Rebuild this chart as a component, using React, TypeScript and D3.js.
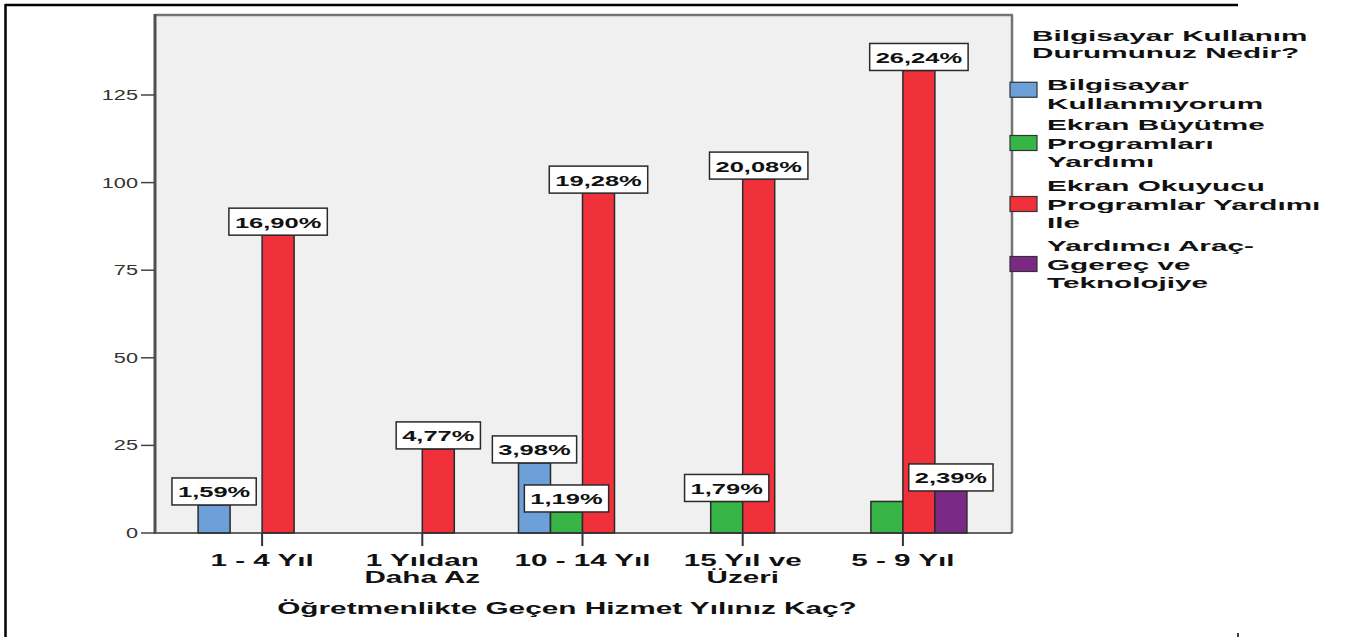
import React, { useEffect, useRef } from "react";
import * as d3 from "d3";

// ---- data ----
const categoryLines: string[][] = [
  ["1 - 4 Yıl"],
  ["1 Yıldan", "Daha Az"],
  ["10 - 14 Yıl"],
  ["15 Yıl ve", "Üzeri"],
  ["5 - 9 Yıl"],
];
const seriesKeys = ["kullanmiyorum", "buyutme", "okuyucu", "aracGerec"];
const legendLines: string[][] = [
  ["Bilgisayar", "Kullanmıyorum"],
  ["Ekran Büyütme", "Programları", "Yardımı"],
  ["Ekran Okuyucu", "Programlar Yardımı", "Ile"],
  ["Yardımcı Araç-", "Ggereç ve", "Teknolojiye"],
];
const legendTitle = ["Bilgisayar Kullanım", "Durumunuz Nedir?"];
const seriesColors = ["#6d9fd9", "#37b647", "#f0303a", "#7a2a84"];

const kullanmiyorum = [8, 0, 20, 0, 0];
const buyutme = [0, 0, 6, 9, 9];
const okuyucu = [85, 24, 97, 101, 132];
const aracGerec = [0, 0, 0, 0, 12];

const kullanmiyorumPct = ["1,59%", null, "3,98%", null, null];
const buyutmePct = [null, null, "1,19%", "1,79%", null];
const okuyucuPct = ["16,90%", "4,77%", "19,28%", "20,08%", "26,24%"];
const aracGerecPct = [null, null, null, null, "2,39%"];

const yTicks = [0, 25, 50, 75, 100, 125];
const xTitle = "Öğretmenlikte Geçen Hizmet Yılınız Kaç?";

const seriesValues = [kullanmiyorum, buyutme, okuyucu, aracGerec];
const seriesPct = [kullanmiyorumPct, buyutmePct, okuyucuPct, aracGerecPct];

const FONT = "'Liberation Sans', Arial, sans-serif";

export default function App() {
  const ref = useRef<SVGSVGElement>(null);

  useEffect(() => {
    const svg = d3.select(ref.current);
    svg.selectAll("*").remove();

    const plotL = 155, plotR = 1012, plotT = 15, plotB = 533;

    const stext = (
      g: any, x: number, y: number, str: string,
      o: { size: number; weight?: string; sx: number; anchor?: string; fill?: string }
    ) =>
      g.append("text")
        .attr("transform", `translate(${x},${y}) scale(${o.sx},1)`)
        .attr("text-anchor", o.anchor || "start")
        .attr("font-family", FONT)
        .attr("font-size", o.size)
        .attr("font-weight", o.weight || "bold")
        .attr("fill", o.fill || "#111")
        .text(str);

    // outer frame
    svg.append("line").attr("x1", 5).attr("x2", 1238).attr("y1", 5).attr("y2", 5)
      .attr("stroke", "#000").attr("stroke-width", 2.5);
    svg.append("line").attr("x1", 5.5).attr("x2", 5.5).attr("y1", 4).attr("y2", 637)
      .attr("stroke", "#000").attr("stroke-width", 2.5);
    svg.append("line").attr("x1", 1238).attr("x2", 1238).attr("y1", 633).attr("y2", 637)
      .attr("stroke", "#000").attr("stroke-width", 1.5);

    // plot background
    svg.append("rect").attr("x", plotL).attr("y", plotT)
      .attr("width", plotR - plotL).attr("height", plotB - plotT).attr("fill", "#f0f0f0");

    const y = d3.scaleLinear().domain([0, 125]).range([plotB, 95]);
    const x0 = d3.scaleBand<number>().domain(d3.range(categoryLines.length)).range([182, 983]);
    const x1 = d3.scaleBand<string>().domain(seriesKeys).range([-64, 64]);

    // frame borders
    svg.append("line").attr("x1", plotL).attr("x2", plotR + 1).attr("y1", plotT).attr("y2", plotT)
      .attr("stroke", "#747474").attr("stroke-width", 2.5);
    svg.append("line").attr("x1", plotR).attr("x2", plotR).attr("y1", plotT).attr("y2", plotB)
      .attr("stroke", "#747474").attr("stroke-width", 2.5);

    // bars
    const bars = svg.append("g");
    seriesValues.forEach((vals, si) => {
      vals.forEach((v, ci) => {
        if (!v) return;
        const cx = (x0(ci) as number) + x0.bandwidth() / 2;
        const bx = cx + (x1(seriesKeys[si]) as number);
        bars.append("rect")
          .attr("x", bx).attr("y", y(v))
          .attr("width", x1.bandwidth()).attr("height", y(0) - y(v))
          .attr("fill", seriesColors[si])
          .attr("stroke", "#2a2a2a").attr("stroke-width", 1.5);
      });
    });

    // axes
    svg.append("line").attr("x1", plotL).attr("x2", plotR).attr("y1", plotB).attr("y2", plotB)
      .attr("stroke", "#333").attr("stroke-width", 1.5);
    svg.append("line").attr("x1", plotL).attr("x2", plotL).attr("y1", plotT - 1).attr("y2", plotB + 1)
      .attr("stroke", "#505050").attr("stroke-width", 3);

    yTicks.forEach((t) => {
      svg.append("line").attr("x1", 141).attr("x2", plotL).attr("y1", y(t)).attr("y2", y(t))
        .attr("stroke", "#444").attr("stroke-width", 1.5);
      stext(svg, 138, y(t) + 5, String(t), { size: 14, weight: "normal", sx: 1.55, anchor: "end", fill: "#333" });
    });

    categoryLines.forEach((lines, ci) => {
      const cx = (x0(ci) as number) + x0.bandwidth() / 2;
      svg.append("line").attr("x1", cx).attr("x2", cx).attr("y1", plotB).attr("y2", 546)
        .attr("stroke", "#333").attr("stroke-width", 2);
      lines.forEach((ln, li) => {
        stext(svg, cx, 566 + li * 17, ln, { size: 16, sx: 1.85, anchor: "middle" });
      });
    });

    stext(svg, 567, 614, xTitle, { size: 16, sx: 1.86, anchor: "middle" });

    // data labels
    const labels = svg.append("g");
    seriesPct.forEach((pcts, si) => {
      pcts.forEach((p, ci) => {
        if (!p) return;
        const v = seriesValues[si][ci];
        const cx = (x0(ci) as number) + x0.bandwidth() / 2 + (x1(seriesKeys[si]) as number) + x1.bandwidth() / 2;
        const top = y(v);
        const g = labels.append("g");
        const rect = g.append("rect");
        const sx = 1.7;
        const t = stext(g, cx, top - 7.5, p, { size: 15, sx, anchor: "middle", fill: "#111" });
        const tw = (t.node() as SVGTextElement).getComputedTextLength() * sx;
        const bw = tw + 12;
        rect.attr("x", cx - bw / 2).attr("y", top - 27).attr("width", bw).attr("height", 27)
          .attr("fill", "#fff").attr("stroke", "#2a2a2a").attr("stroke-width", 1.5);
      });
    });

    // legend
    const lg = svg.append("g");
    legendTitle.forEach((ln, i) => {
      stext(lg, 1032, 41 + i * 17, ln, { size: 15, sx: 1.98, fill: "#111" });
    });
    const itemFirst = [90, 130, 191, 251];
    legendLines.forEach((lines, si) => {
      const base = itemFirst[si];
      lines.forEach((ln, li) => {
        stext(lg, 1047, base + li * 18.5, ln, { size: 15, sx: 1.98, fill: "#111" });
      });
      const blockTop = base - 11;
      const blockBot = base + (lines.length - 1) * 18.5;
      const mid = (blockTop + blockBot) / 2 + (lines.length === 2 ? -4 : 0);
      lg.append("rect").attr("x", 1010).attr("y", mid - 7.5).attr("width", 27).attr("height", 15)
        .attr("fill", seriesColors[si]).attr("stroke", "#333").attr("stroke-width", 1.2);
    });
  }, []);

  return (
    <svg
      ref={ref}
      width={1351}
      height={637}
      style={{ position: "absolute", left: 0, top: 0, background: "#fff" }}
    />
  );
}
